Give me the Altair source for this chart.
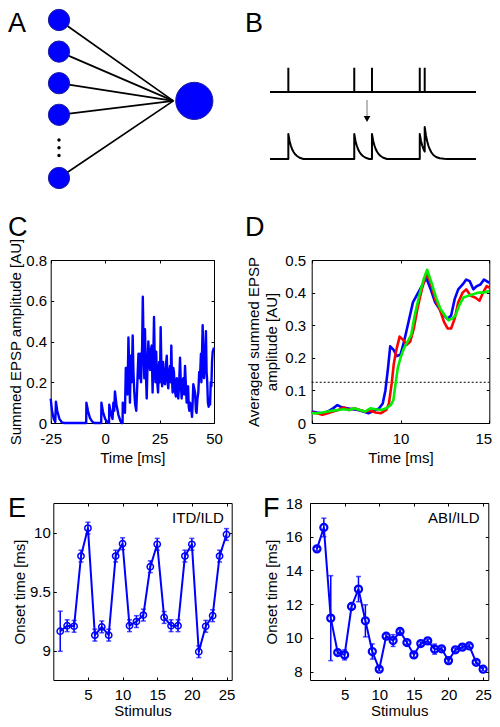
import altair as alt
import pandas as pd

W, H = 484, 711
FONT = "Liberation Sans"
BLUE = "#0000ff"
RED = "#ff0000"
GREEN = "#00ee00"

# ---------------- data ----------------
# Panel A: schematic network (input nodes, one output node, ellipsis dots)
a_in_x = [0, 0, 0, 0, 0]
a_in_y = [0, 1, 2, 3, 5]
a_out_x = [1.0]
a_out_y = [2.56]
a_edge_end_x = 0.845
a_dot_x = [0, 0, 0]
a_dot_y = [3.8, 4.04, 4.29]

# Panel B: spike train and summed EPSP trace
b_spike_t = [8.9, 40.9, 49.5, 72.7, 75.1]
b_top_level = 2.68
b_spike_top = 3.65
b_epsp_t = [0, 8.9, 8.9, 9.5, 10.1, 10.7, 11.3, 12.1, 13.1, 14.4, 16.2,
            40.9, 40.9, 41.5, 42.1, 42.7, 43.3, 44.1, 45.1, 46.4, 48.2,
            49.5, 49.5, 50.1, 50.7, 51.3, 51.9, 52.7, 53.7, 55.0, 56.8,
            72.7, 72.7, 73.3, 73.9, 74.5, 75.1, 75.1, 75.7, 76.3, 76.9, 77.5,
            78.3, 79.3, 80.6, 82.4, 84.5, 86.0, 100]
b_epsp_v = [0, 0, 1, .72, .54, .40, .30, .20, .12, .05, 0,
            0, 1, .72, .54, .40, .30, .20, .12, .05, 0,
            0, 1, .72, .54, .40, .30, .20, .12, .05, 0,
            0, 1, .72, .54, .40, .30, 1.28, .94, .71, .53, .40,
            .27, .16, .08, .03, .01, 0, 0]
b_arrow_t = [47.1]
b_arrow_from = [2.36]
b_arrow_to = [1.72]
b_arrow_head = [1.6]

# Panel C: summed EPSP amplitude vs time
c_t = [-25, -24.4, -23.6, -22.9, -22.6, -22.0, -21.0, -20.0, -19.0, -8.7, -8.6, -7.9, -7.0,
       -6.0, -5.0, -1.8, -1.7, -1.0, 0.0, 1.0, 1.8, 1.9, 2.6, 3.4, 3.8, 4.2, 4.5, 5.2, 6.1,
       7.0, 7.6, 8.0, 8.1, 8.6, 9.1, 9.5, 9.9, 10.3, 10.7, 11.1, 11.4, 11.8, 12.2, 12.65,
       13.0, 13.4, 13.8, 14.3, 14.8, 15.3, 15.7, 16.1, 16.5, 17.0, 17.3, 17.7, 18.0, 18.3,
       18.7, 19.1, 19.5, 19.85, 20.2, 20.6, 21.0, 21.4, 21.8, 22.1, 22.45, 22.8, 23.1,
       23.45, 23.8, 24.3, 24.8, 25.2, 25.5, 25.9, 26.2, 26.6, 27.0, 27.5, 27.9, 28.3, 28.7,
       29.0, 29.4, 29.8, 30.1, 30.4, 30.7, 31.0, 31.3, 31.6, 32.0, 32.5, 32.9, 33.2, 33.6,
       34.0, 34.4, 34.8, 35.15, 35.5, 35.9, 36.3, 36.7, 37.1, 37.45, 37.8, 38.1, 38.4, 38.7,
       39.0, 39.4, 39.9, 40.2, 40.5, 40.9, 41.3, 41.7, 42.0, 42.4, 42.8, 43.2, 43.6, 44.0,
       44.2, 44.8, 45.1, 45.4, 45.8, 46.3, 46.6, 46.9, 47.2, 47.55, 47.9, 48.2, 48.5, 48.8,
       49.1, 49.4, 50.0]
c_v = [0.12, 0.06, 0.02, 0.005, 0.105, 0.06, 0.02, 0.005, 0.0, 0.0, 0.1, 0.06, 0.025,
       0.008, 0.0, 0.0, 0.1, 0.055, 0.02, 0.005, 0.0, 0.09, 0.05, 0.02, 0.1, 0.06, 0.155,
       0.09, 0.04, 0.01, 0.0, 0.0, 0.1, 0.065, 0.05, 0.27, 0.27, 0.14, 0.42, 0.25, 0.1, 0.33,
       0.2, 0.43, 0.25, 0.15, 0.09, 0.06, 0.2, 0.34, 0.22, 0.34, 0.2, 0.38, 0.62, 0.35, 0.22,
       0.46, 0.25, 0.12, 0.3, 0.4, 0.32, 0.26, 0.36, 0.38, 0.15, 0.3, 0.52, 0.3, 0.2, 0.35,
       0.22, 0.15, 0.3, 0.2, 0.47, 0.25, 0.18, 0.3, 0.2, 0.19, 0.28, 0.33, 0.2, 0.17, 0.25,
       0.28, 0.2, 0.38, 0.22, 0.15, 0.27, 0.25, 0.16, 0.13, 0.22, 0.2, 0.12, 0.2, 0.32, 0.18,
       0.12, 0.2, 0.22, 0.14, 0.28, 0.18, 0.1, 0.15, 0.18, 0.08, 0.06, 0.1, 0.09, 0.03, 0.1,
       0.19, 0.17, 0.15, 0.06, 0.05, 0.12, 0.15, 0.25, 0.23, 0.34, 0.2, 0.48, 0.3, 0.22, 0.3,
       0.45, 0.25, 0.2, 0.1, 0.08, 0.12, 0.09, 0.2, 0.18, 0.3, 0.35, 0.37]

# Panel D: averaged summed EPSP (three conditions) and threshold
d_blue_t = [5.0, 5.3, 5.6, 5.9, 6.2, 6.45, 6.7, 7.0, 7.3, 7.6, 7.9, 8.2, 8.5, 8.8, 9.0, 9.15,
            9.3, 9.42, 9.6, 9.8, 10.0, 10.2, 10.45, 10.7, 10.95, 11.2, 11.45, 11.7, 11.95,
            12.2, 12.45, 12.65, 12.85, 13.05, 13.25, 13.5, 13.7, 13.9, 14.1, 14.3, 14.5, 14.7,
            14.85, 15.0]
d_blue_v = [0.035, 0.032, 0.03, 0.035, 0.045, 0.055, 0.048, 0.045, 0.042, 0.04, 0.035, 0.03,
            0.038, 0.045, 0.06, 0.1, 0.17, 0.235, 0.225, 0.205, 0.21, 0.25, 0.31, 0.37, 0.395,
            0.42, 0.445, 0.41, 0.37, 0.35, 0.33, 0.32, 0.33, 0.38, 0.41, 0.425, 0.44, 0.435,
            0.41, 0.42, 0.425, 0.44, 0.435, 0.43]
d_red_t = [5.0, 5.3, 5.6, 5.9, 6.2, 6.5, 6.8, 7.1, 7.4, 7.7, 8.0, 8.3, 8.6, 8.9, 9.2, 9.35, 9.5,
           9.62, 9.75, 9.95, 10.15, 10.35, 10.55, 10.75, 10.95, 11.2, 11.47, 11.7, 11.95, 12.2,
           12.45, 12.65, 12.85, 13.05, 13.25, 13.5, 13.7, 13.95, 14.2, 14.45, 14.65, 14.85,
           15.0]
d_red_v = [0.032, 0.03, 0.025, 0.03, 0.035, 0.04, 0.048, 0.04, 0.045, 0.04, 0.035, 0.038,
           0.032, 0.03, 0.04, 0.06, 0.12, 0.18, 0.22, 0.265, 0.255, 0.24, 0.25, 0.29, 0.35,
           0.41, 0.46, 0.43, 0.38, 0.35, 0.31, 0.29, 0.29, 0.32, 0.37, 0.4, 0.41, 0.39, 0.385,
           0.375, 0.4, 0.42, 0.415]
d_green_t = [5.0, 5.3, 5.6, 5.9, 6.2, 6.5, 6.8, 7.1, 7.4, 7.7, 8.0, 8.3, 8.6, 8.9, 9.2, 9.45,
             9.6, 9.72, 9.85, 10.0, 10.2, 10.4, 10.6, 10.8, 11.05, 11.3, 11.5, 11.75, 12.0,
             12.25, 12.5, 12.7, 12.9, 13.1, 13.3, 13.55, 13.8, 14.1, 14.4, 14.7, 15.0]
d_green_v = [0.03, 0.03, 0.032, 0.035, 0.038, 0.04, 0.042, 0.04, 0.045, 0.04, 0.035, 0.045,
             0.042, 0.04, 0.045, 0.055, 0.07, 0.12, 0.17, 0.2, 0.23, 0.25, 0.27, 0.33, 0.39,
             0.44, 0.47, 0.43, 0.385, 0.35, 0.33, 0.315, 0.32, 0.33, 0.36, 0.385, 0.39, 0.395,
             0.4, 0.4, 0.405]
d_threshold = 0.125

# Panel E: onset time per stimulus (ITD/ILD)
e_stim = list(range(1, 26))
e_onset = [9.163, 9.21, 9.205, 9.80, 10.037, 9.13, 9.20, 9.13, 9.80, 9.905, 9.21, 9.245, 9.30,
           9.71, 9.90, 9.28, 9.21, 9.21, 9.80, 9.90, 8.99, 9.205, 9.295, 9.80, 9.983]
e_err = [0.17, 0.05, 0.05, 0.05, 0.05, 0.05, 0.05, 0.05, 0.05, 0.05, 0.05, 0.05, 0.05, 0.05,
         0.05, 0.05, 0.05, 0.05, 0.05, 0.05, 0.05, 0.05, 0.05, 0.05, 0.05]

# Panel F: onset time per stimulus (ABI/ILD)
f_stim = list(range(1, 26))
f_onset = [15.28, 16.55, 11.17, 9.13, 8.99, 11.86, 12.89, 11.01, 9.19, 8.14, 10.1, 9.84,
           10.38, 9.72, 8.99, 9.66, 9.82, 9.33, 9.35, 8.65, 9.29, 9.45, 9.52, 8.55, 8.14]
f_err = [0.1, 0.55, 2.52, 0.1, 0.3, 0.15, 0.75, 0.95, 0.45, 0.1, 0.1, 0.35, 0.1, 0.1, 0.15,
         0.1, 0.1, 0.3, 0.1, 0.1, 0.1, 0.1, 0.1, 0.1, 0.1]

# ---------------- layout (pixel geometry of each panel inside the chart) ----------------
PA = dict(L=51, R=186.3, T=12, B=170)
PB = dict(L=262, R=468, T=51, B=151)
PC = dict(L=42.7, R=206.0, T=252.0, B=415.0)
PD = dict(L=303.7, R=481.3, T=252.0, B=415.0)
PE = dict(L=45.3, R=223.7, T=495.0, B=672.0)
PF = dict(L=302.0, R=480.3, T=495.0, B=672.0)

STYLE = dict(labelFont=FONT, labelFontSize=15, labelColor="black",
             titleFont=FONT, titleFontSize=15, titleFontWeight="normal", titleColor="black",
             grid=False, domainColor="black", domainWidth=1, tickColor="black", tickWidth=1,
             labelFlush=False, labelOverlap=False)
LABEL_EXPR = "'' + datum.value"


def scale(dom, rng):
    return alt.Scale(domain=dom, range=rng, nice=False, zero=False)


def xs(P, dom):
    return scale(dom, [P["L"], P["R"]])


def ys(P, dom):
    return scale(dom, [P["B"], P["T"]])


def x_main(P, values, title, lp, tp, **kw):
    return alt.Axis(orient="bottom", offset=P["B"] - H, values=values, labelExpr=LABEL_EXPR,
                    ticks=False, labelPadding=lp, title=title, titlePadding=tp, **STYLE, **kw)


def y_main(P, values, title, lp, tp, **kw):
    return alt.Axis(orient="left", offset=-P["L"], values=values, labelExpr=LABEL_EXPR,
                    ticks=False, labelPadding=lp, title=title, titlePadding=tp, **STYLE, **kw)


def frame_layers(P, xdom, ydom, xvals, yvals):
    df = pd.DataFrame({"x": xdom, "y": ydom})
    inner_bottom = alt.Chart(df).mark_point(opacity=0).encode(
        x=alt.X("x:Q", scale=xs(P, xdom),
                axis=alt.Axis(orient="top", offset=-P["B"], values=xvals, ticks=True,
                              tickSize=3, labels=False, domain=False, title=None, **STYLE)),
        y=alt.Y("y:Q", scale=ys(P, ydom),
                axis=alt.Axis(orient="right", offset=P["L"] - W, values=yvals, ticks=True,
                              tickSize=3, labels=False, domain=False, title=None, **STYLE)))
    top_right = alt.Chart(df).mark_point(opacity=0).encode(
        x=alt.X("x:Q", scale=xs(P, xdom),
                axis=alt.Axis(orient="bottom", offset=P["T"] - H, values=xvals, ticks=True,
                              tickSize=3, labels=False, domain=True, title=None, **STYLE)),
        y=alt.Y("y:Q", scale=ys(P, ydom),
                axis=alt.Axis(orient="left", offset=-P["R"], values=yvals, ticks=True,
                              tickSize=3, labels=False, domain=True, title=None, **STYLE)))
    return [inner_bottom, top_right]


def letter(txt, x, y):
    return alt.Chart(alt.Data(values=[{}])).mark_text(
        text=txt, font=FONT, fontSize=27, align="left", baseline="alphabetic", color="black"
    ).encode(x=alt.value(x), y=alt.value(y))


layers = []

# ---------- A ----------
A_X, A_Y = [0, 1], [0, 5]
df_edges = pd.DataFrame({"x": a_in_x, "y": a_in_y,
                         "x2": [a_edge_end_x] * len(a_in_x), "y2": [a_out_y[0]] * len(a_in_x)})
layers.append(alt.Chart(df_edges).mark_rule(color="black", strokeWidth=1.7).encode(
    x=alt.X("x:Q", scale=xs(PA, A_X), axis=None), x2="x2:Q",
    y=alt.Y("y:Q", scale=ys(PA, A_Y[::-1]), axis=None), y2="y2:Q"))
layers.append(alt.Chart(pd.DataFrame({"x": a_in_x, "y": a_in_y})).mark_point(
    shape="circle", filled=True, size=452, fill=BLUE, stroke="#1c1c9c", strokeWidth=1,
    opacity=1).encode(
    x=alt.X("x:Q", scale=xs(PA, A_X), axis=None),
    y=alt.Y("y:Q", scale=ys(PA, A_Y[::-1]), axis=None)))
layers.append(alt.Chart(pd.DataFrame({"x": a_out_x, "y": a_out_y})).mark_point(
    shape="circle", filled=True, size=1385, fill=BLUE, stroke="#1c1c9c", strokeWidth=1,
    opacity=1).encode(
    x=alt.X("x:Q", scale=xs(PA, A_X), axis=None),
    y=alt.Y("y:Q", scale=ys(PA, A_Y[::-1]), axis=None)))
layers.append(alt.Chart(pd.DataFrame({"x": a_dot_x, "y": a_dot_y})).mark_point(
    shape="circle", filled=True, size=12, color="black", opacity=1).encode(
    x=alt.X("x:Q", scale=xs(PA, A_X), axis=None),
    y=alt.Y("y:Q", scale=ys(PA, A_Y[::-1]), axis=None)))

# ---------- B ----------
B_X, B_Y = [0, 100], [0, 4]
layers.append(alt.Chart(pd.DataFrame({"x": [0], "x2": [100], "y": [b_top_level]})).mark_rule(
    color="black", strokeWidth=2).encode(
    x=alt.X("x:Q", scale=xs(PB, B_X), axis=None), x2="x2:Q",
    y=alt.Y("y:Q", scale=ys(PB, B_Y), axis=None)))
layers.append(alt.Chart(pd.DataFrame({"t": b_spike_t, "y": [b_top_level] * len(b_spike_t),
                                      "y2": [b_spike_top] * len(b_spike_t)})).mark_rule(
    color="black", strokeWidth=2).encode(
    x=alt.X("t:Q", scale=xs(PB, B_X), axis=None),
    y=alt.Y("y:Q", scale=ys(PB, B_Y), axis=None), y2="y2:Q"))
layers.append(alt.Chart(pd.DataFrame({"t": b_epsp_t, "v": b_epsp_v,
                                      "i": list(range(len(b_epsp_t)))})).mark_line(
    color="black", strokeWidth=2, strokeJoin="round").encode(
    x=alt.X("t:Q", scale=xs(PB, B_X), axis=None),
    y=alt.Y("v:Q", scale=ys(PB, B_Y), axis=None), order="i:Q"))
layers.append(alt.Chart(pd.DataFrame({"t": b_arrow_t, "y": b_arrow_from, "y2": b_arrow_to})).mark_rule(
    color="#777777", strokeWidth=1).encode(
    x=alt.X("t:Q", scale=xs(PB, B_X), axis=None),
    y=alt.Y("y:Q", scale=ys(PB, B_Y), axis=None), y2="y2:Q"))
layers.append(alt.Chart(pd.DataFrame({"t": b_arrow_t, "y": b_arrow_head})).mark_point(
    shape="triangle-down", filled=True, size=45, color="black", opacity=1).encode(
    x=alt.X("t:Q", scale=xs(PB, B_X), axis=None),
    y=alt.Y("y:Q", scale=ys(PB, B_Y), axis=None)))

# ---------- C ----------
C_X, C_Y = [-25, 50], [0, 0.8]
C_XT, C_YT = [-25, 0, 25, 50], [0, 0.2, 0.4, 0.6, 0.8]
layers.append(alt.Chart(pd.DataFrame({"t": c_t, "v": c_v})).mark_line(
    color=BLUE, strokeWidth=2.4, strokeJoin="round").encode(
    x=alt.X("t:Q", scale=xs(PC, C_X), axis=x_main(PC, C_XT, "Time [ms]", 8, 4)),
    y=alt.Y("v:Q", scale=ys(PC, C_Y),
            axis=y_main(PC, C_YT, "Summed EPSP amplitude [AU]", 4, 2))))
layers += frame_layers(PC, C_X, C_Y, C_XT, C_YT)

# ---------- D ----------
D_X, D_Y = [5, 15], [0, 0.5]
D_XT, D_YT = [5, 10, 15], [0, 0.1, 0.2, 0.3, 0.4, 0.5]
layers.append(alt.Chart(pd.DataFrame({"x": [5], "x2": [15], "y": [d_threshold]})).mark_rule(
    color="black", strokeWidth=1, strokeDash=[2, 2]).encode(
    x=alt.X("x:Q", scale=xs(PD, D_X),
            axis=x_main(PD, D_XT, "Time [ms]", 8, 4,
                        labelOffset={"condition": {"test": "datum.value == 15", "value": -6},
                                     "value": 0})),
    x2="x2:Q",
    y=alt.Y("y:Q", scale=ys(PD, D_Y),
            axis=y_main(PD, D_YT, ["Averaged summed EPSP", "amplitude [AU]"], 6, 5,
                        titleLineHeight=18))))
for tt, vv, col in [(d_blue_t, d_blue_v, BLUE), (d_red_t, d_red_v, RED),
                    (d_green_t, d_green_v, GREEN)]:
    layers.append(alt.Chart(pd.DataFrame({"t": tt, "v": vv})).mark_line(
        color=col, strokeWidth=2.6, strokeJoin="round").encode(
        x=alt.X("t:Q", scale=xs(PD, D_X), axis=None),
        y=alt.Y("v:Q", scale=ys(PD, D_Y), axis=None)))
layers += frame_layers(PD, D_X, D_Y, D_XT, D_YT)


# ---------- E and F ----------
def onset_panel(P, stim, onset, err, ydom, yticks, ylp, ytp, label, label_x, label_y,
                psize, pstroke):
    xdom = [0, 25.75]
    xt = [5, 10, 15, 20, 25]
    df = pd.DataFrame({"s": stim, "o": onset,
                       "lo": [o - e for o, e in zip(onset, err)],
                       "hi": [o + e for o, e in zip(onset, err)]})
    caps = pd.DataFrame({"s": stim + stim, "c": list(df["lo"]) + list(df["hi"])})
    out = []
    out.append(alt.Chart(df).mark_line(color=BLUE, strokeWidth=2, strokeJoin="round").encode(
        x=alt.X("s:Q", scale=xs(P, xdom), axis=x_main(P, xt, "Stimulus", 7, 1)),
        y=alt.Y("o:Q", scale=ys(P, ydom), axis=y_main(P, yticks, "Onset time [ms]", ylp, ytp))))
    out.append(alt.Chart(df).mark_rule(color=BLUE, strokeWidth=1.5).encode(
        x=alt.X("s:Q", scale=xs(P, xdom), axis=None),
        y=alt.Y("lo:Q", scale=ys(P, ydom), axis=None), y2="hi:Q"))
    out.append(alt.Chart(caps).mark_tick(color=BLUE, orient="horizontal", size=5,
                                         thickness=1.5).encode(
        x=alt.X("s:Q", scale=xs(P, xdom), axis=None),
        y=alt.Y("c:Q", scale=ys(P, ydom), axis=None)))
    out.append(alt.Chart(df).mark_point(shape="circle", filled=False, size=psize,
                                        strokeWidth=pstroke, color=BLUE, opacity=1).encode(
        x=alt.X("s:Q", scale=xs(P, xdom), axis=None),
        y=alt.Y("o:Q", scale=ys(P, ydom), axis=None)))
    out.append(alt.Chart(pd.DataFrame({"x": [label_x], "y": [label_y], "t": [label]})).mark_text(
        font=FONT, fontSize=15, align="right", baseline="alphabetic", color="black").encode(
        x=alt.X("x:Q", scale=xs(P, xdom), axis=None),
        y=alt.Y("y:Q", scale=ys(P, ydom), axis=None), text="t:N"))
    out += frame_layers(P, xdom, ydom, xt, yticks)
    return out


layers += onset_panel(PE, e_stim, e_onset, e_err, [8.75, 10.25], [9, 9.5, 10], 3, 2,
                      "ITD/ILD", 24.6, 10.08, 40, 1.5)
layers += onset_panel(PF, f_stim, f_onset, f_err, [7.5, 18], [8, 10, 12, 14, 16, 18], 8, 6,
                      "ABI/ILD", 24.5, 16.83, 50, 2.2)

# ---------- panel letters ----------
layers += [letter("A", 0, 24), letter("B", 237, 24), letter("C", 0, 228),
           letter("D", 237, 228), letter("E", 0, 509), letter("F", 255, 509)]

chart = alt.layer(*layers).resolve_scale(x="independent", y="independent").properties(
    width=W, height=H, autosize=alt.AutoSizeParams(type="none"), padding=0,
    background="white"
).configure_view(stroke=None)

chart.save("out.html", embed_options={"renderer": "svg", "actions": False})
